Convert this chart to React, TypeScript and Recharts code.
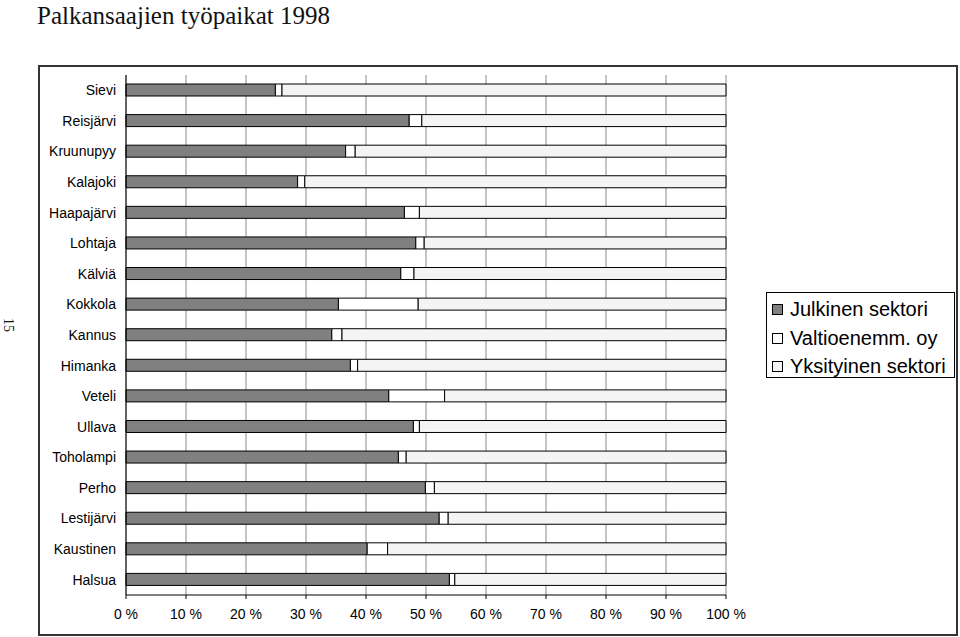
import React from "react";
import { BarChart, Bar, XAxis, YAxis, CartesianGrid } from "recharts";

const categories = [
  "Sievi", "Reisjärvi", "Kruunupyy", "Kalajoki", "Haapajärvi", "Lohtaja", "Kälviä",
  "Kokkola", "Kannus", "Himanka", "Veteli", "Ullava", "Toholampi", "Perho",
  "Lestijärvi", "Kaustinen", "Halsua",
];
const julkinen = [24.9, 47.2, 36.6, 28.6, 46.4, 48.3, 45.8, 35.4, 34.3, 37.4, 43.8, 47.9, 45.4, 49.9, 52.2, 40.2, 53.9];
const valtio = [1.1, 2.1, 1.6, 1.2, 2.5, 1.4, 2.2, 13.3, 1.7, 1.2, 9.3, 1.0, 1.3, 1.5, 1.5, 3.4, 0.9];
const xTicks = [0, 10, 20, 30, 40, 50, 60, 70, 80, 90, 100];
const boundaryTicks = [0, 1, 2, 3, 4, 5, 6, 7, 8, 9, 10, 11, 12, 13, 14, 15, 16, 17];
const seriesNames = ["Julkinen sektori", "Valtioenemm. oy", "Yksityinen sektori"];
const seriesColors = ["#808080", "#ffffff", "#f4f4f4"];

const data = categories.map((name, i) => ({
  name,
  julkinen: julkinen[i],
  valtio: valtio[i],
  yksityinen: +(100 - julkinen[i] - valtio[i]).toFixed(1),
}));

const font = "'Liberation Sans', Arial, sans-serif";
const legendRowCenters = [16, 45, 73];

export default function App() {
  return (
    <div style={{ position: "absolute", left: 0, top: 0, width: 960, height: 637, background: "#fff" }}>
      <div
        style={{
          position: "absolute", left: 37, top: 2, fontFamily: "'Liberation Serif', 'DejaVu Serif', serif",
          fontSize: 25, color: "#111", whiteSpace: "nowrap", lineHeight: "28px",
        }}
      >
        Palkansaajien työpaikat 1998
      </div>
      <div
        style={{
          position: "absolute", left: 2, top: 318, fontFamily: "'Liberation Serif', serif", fontSize: 14,
          transform: "rotate(90deg)", transformOrigin: "left top", marginLeft: 14, color: "#111",
        }}
      >
        15
      </div>
      <div
        style={{
          position: "absolute", left: 38, top: 65, width: 916, height: 567,
          border: "2px solid #333", boxSizing: "content-box",
        }}
      />
      <div style={{ position: "absolute", left: 0, top: 0 }}>
        <BarChart
          width={960}
          height={637}
          data={data}
          layout="vertical"
          margin={{ top: 75, right: 234, bottom: 12, left: 38 }}
          barCategoryGap={0}
        >
          <CartesianGrid horizontal={false} stroke="#8a8a8a" strokeWidth={1} />
          <XAxis
            type="number"
            domain={[0, 100]}
            ticks={xTicks}
            tickFormatter={(v: number) => `${v} %`}
            height={30}
            tickSize={4}
            tickMargin={10}
            axisLine={{ stroke: "#000" }}
            tickLine={{ stroke: "#000" }}
            tick={{ fill: "#000", fontSize: 14, fontFamily: font }}
            interval={0}
          />
          <XAxis
            xAxisId="top"
            orientation="top"
            type="number"
            domain={[0, 100]}
            height={0}
            tick={false}
            tickLine={false}
            axisLine={{ stroke: "#8a8a8a" }}
          />
          <YAxis
            type="category"
            dataKey="name"
            width={88}
            tickLine={false}
            tickSize={4}
            tickMargin={6}
            axisLine={{ stroke: "#000" }}
            tick={{ fill: "#000", fontSize: 14, fontFamily: font }}
            interval={0}
          />
          <YAxis
            yAxisId="bounds"
            type="number"
            domain={[0, 17]}
            ticks={boundaryTicks}
            width={0}
            tick={false}
            tickSize={4}
            tickLine={{ stroke: "#000" }}
            axisLine={false}
            interval={0}
          />
          <Bar dataKey="julkinen" stackId="a" fill={seriesColors[0]} stroke="#000" strokeWidth={1} barSize={12} isAnimationActive={false} />
          <Bar dataKey="valtio" stackId="a" fill={seriesColors[1]} stroke="#000" strokeWidth={1} barSize={12} isAnimationActive={false} />
          <Bar dataKey="yksityinen" stackId="a" fill={seriesColors[2]} stroke="#000" strokeWidth={1} barSize={12} isAnimationActive={false} />
        </BarChart>
      </div>
      <div
        style={{
          position: "absolute", left: 766, top: 292, width: 189, height: 86, border: "1px solid #000",
          boxSizing: "border-box", fontFamily: font, fontSize: 20, color: "#000",
        }}
      >
        {seriesNames.map((n, i) => (
          <div
            key={n}
            style={{
              position: "absolute", left: 5, top: legendRowCenters[i] - 12, height: 24,
              display: "flex", alignItems: "center", whiteSpace: "nowrap", lineHeight: "24px",
            }}
          >
            <span style={{ display: "inline-block", width: 11, height: 11, border: "1px solid #000", background: seriesColors[i], marginRight: 7, boxSizing: "border-box" }} />
            <span>{n}</span>
          </div>
        ))}
      </div>
    </div>
  );
}
